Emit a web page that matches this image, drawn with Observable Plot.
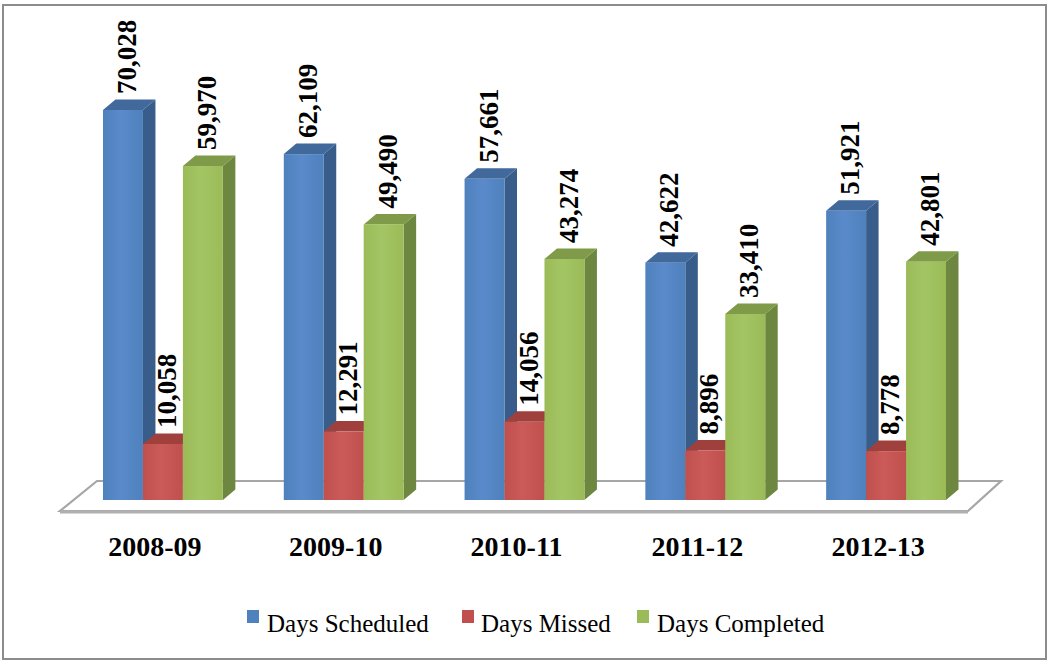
<!DOCTYPE html>
<html><head><meta charset="utf-8">
<script src="https://cdn.jsdelivr.net/npm/d3@7"></script>
<script src="https://cdn.jsdelivr.net/npm/@observablehq/plot@0.6"></script>
<style>
body{margin:0;background:#fff;width:1050px;height:661px;overflow:hidden;position:relative;font-family:"Liberation Serif","Times New Roman",serif}
#frame{position:absolute;left:2px;top:4px;width:1045px;height:656px;border:2px solid #8c8c8c;box-sizing:border-box}
#chart{position:absolute;left:0;top:0}
#legend{position:absolute;top:0;left:0;width:1050px;height:661px;font-size:25px;color:#000;pointer-events:none}
.sw{position:absolute;top:610px;width:12px;height:13px}
.tx{position:absolute;top:611px;line-height:25px;white-space:nowrap}
</style></head><body>
<div id="frame"></div><div id="chart"></div><div id="legend"></div>
<script>
const years = ["2008-09","2009-10","2010-11","2011-12","2012-13"];
const seriesNames = ["Days Scheduled","Days Missed","Days Completed"];
const daysScheduled = [70028,62109,57661,42622,51921];
const daysMissed = [10058,12291,14056,8896,8778];
const daysCompleted = [59970,49490,43274,33410,42801];
const frontColors = ["#4F81BD","#C0504D","#9BBB59"];
const frontLight = ["#5A8ACA","#CB5B58","#A4C563"];
const sideColors = ["#385D8A","#8C3836","#6D8740"];
const topColors = ["#41699B","#A0403D","#7F9A48"];

const seriesValues = [daysScheduled, daysMissed, daysCompleted];
const rows = [];
seriesNames.forEach((s, si) => years.forEach((y, yi) => rows.push({year: y, series: s, si, value: seriesValues[si][yi]})));

const xRange = [103, 946];
const padIn = 0.337;
const step = (xRange[1] - xRange[0]) / (years.length - padIn);
const bw = step * (1 - padIn);
const sub = bw / 3;
const depthX = 12.5, depthY = 10.5;

function getScales(args) {
  return args.find(a => a && typeof a.x === "function" && typeof a.y === "function");
}
function bandwidthOf(sx) {
  return typeof sx.bandwidth === "function" ? sx.bandwidth() : sx.bandwidth;
}

function defsMark() {
  const g = d3.create("svg:g");
  const defs = g.append("defs");
  frontColors.forEach((c, i) => {
    const lg = defs.append("linearGradient").attr("id", "front" + i).attr("x1", "0").attr("x2", "1").attr("y1", "0").attr("y2", "0");
    lg.append("stop").attr("offset", "0%").attr("stop-color", c);
    lg.append("stop").attr("offset", "45%").attr("stop-color", frontLight[i]);
    lg.append("stop").attr("offset", "100%").attr("stop-color", c);
  });
  return g.node();
}

function floorMark(...args) {
  const sc = getScales(args);
  const r = sc.x.range();
  const y0 = sc.y(0);
  const g = d3.create("svg:g");
  const fl = r[0] - 43, fr = r[1] + 22;
  const pts = [[fl, y0 + 11], [fr, y0 + 11], [fr + 33, y0 - 19], [fl + 37, y0 - 19]];
  g.append("path").attr("d", "M" + pts.map(p => p.join(",")).join("L") + "Z")
    .attr("fill", "#fff").attr("stroke", "#a6a6a6").attr("stroke-width", 2.2).attr("stroke-linejoin", "miter");
  g.append("line").attr("x1", pts[0][0]).attr("x2", pts[1][0]).attr("y1", y0 + 12).attr("y2", y0 + 12)
    .attr("stroke", "#b0b0b0").attr("stroke-width", 3);
  return g.node();
}

function facesMark(...args) {
  const sc = getScales(args);
  const b = bandwidthOf(sc.x);
  const w = b / 3;
  const y0 = sc.y(0);
  const g = d3.create("svg:g");
  years.forEach((yr, yi) => {
    seriesNames.forEach((s, si) => {
      const v = seriesValues[si][yi];
      const xl = sc.x(yr) + si * w, xr = xl + w, yt = sc.y(v);
      g.append("path").attr("d", `M${xr},${yt}L${xr + depthX},${yt - depthY}L${xr + depthX},${y0 - depthY}L${xr},${y0}Z`)
        .attr("fill", sideColors[si]);
      g.append("path").attr("d", `M${xl},${yt}L${xl + depthX},${yt - depthY}L${xr + depthX},${yt - depthY}L${xr},${yt}Z`)
        .attr("fill", topColors[si]);
    });
  });
  return g.node();
}

const fmt = d3.format(",");
const marks = [defsMark, floorMark, facesMark];
seriesNames.forEach((s, si) => {
  const data = rows.filter(d => d.si === si);
  marks.push(Plot.barY(data, {x: "year", y: "value", fill: `url(#front${si})`, insetLeft: si * sub, insetRight: (2 - si) * sub}));
});
seriesNames.forEach((s, si) => {
  const data = rows.filter(d => d.si === si);
  marks.push(Plot.text(data, {x: "year", y: "value", text: d => fmt(d.value), rotate: -90, textAnchor: "start",
    dx: sub * (si - 1) + 4, dy: -16.5, fontSize: 27, fontWeight: "bold", fontFamily: "Liberation Serif", fill: "#000"}));
});
marks.push(Plot.text(years, {x: d => d, y: () => 0, text: d => d, dx: -8.5, dy: 47, fontSize: 28, fontWeight: "bold", fontFamily: "Liberation Serif", fill: "#000"}));

const chart = Plot.plot({
  width: 1050, height: 600,
  marginTop: 0, marginBottom: 0, marginLeft: 0, marginRight: 0,
  style: {background: "transparent", fontFamily: "Liberation Serif"},
  x: {domain: years, range: xRange, paddingInner: padIn, paddingOuter: 0, round: false, axis: null},
  y: {domain: [0, 70028], range: [500, 110], axis: null},
  marks
});
document.getElementById("chart").appendChild(chart);

const legend = document.getElementById("legend");
const swatchX = [247, 462, 637];
const textX = [267, 481, 657];
seriesNames.forEach((s, si) => {
  const sw = document.createElement("div"); sw.className = "sw"; sw.style.background = frontColors[si]; sw.style.left = swatchX[si] + "px";
  const tx = document.createElement("div"); tx.className = "tx"; tx.textContent = s; tx.style.left = textX[si] + "px";
  legend.appendChild(sw); legend.appendChild(tx);
});
</script>
</body></html>
